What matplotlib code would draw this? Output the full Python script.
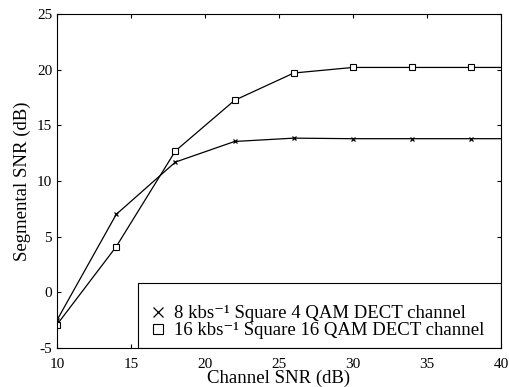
import matplotlib
matplotlib.use("Agg")
import matplotlib.pyplot as plt
from matplotlib.patches import Rectangle

plt.rcParams['font.family'] = ['Liberation Serif', 'DejaVu Serif']
plt.rcParams['axes.unicode_minus'] = False

# 数据
channel_snr = [10, 14, 18, 22, 26, 30, 34, 38, 40]
seg_snr_4qam = [-2.5, 7.0, 11.7, 13.55, 13.85, 13.8, 13.8, 13.8, 13.8]
seg_snr_16qam = [-2.9, 4.1, 12.7, 17.25, 19.7, 20.2, 20.2, 20.2, 20.2]
labels = ['8 kbs\u207b\u00b9 Square 4 QAM DECT channel',
          '16 kbs\u207b\u00b9 Square 16 QAM DECT channel']

fig = plt.figure(figsize=(5.09, 3.87), dpi=100)
ax = fig.add_axes([57 / 509, 1 - 348 / 387, 444 / 509, 334 / 387])

# 最后一个点只画线,不画标记
ax.plot(channel_snr, seg_snr_4qam, color='black', lw=0.9,
        marker='x', ms=3.5, mew=0.9, markevery=list(range(8)))
ax.plot(channel_snr, seg_snr_16qam, color='black', lw=0.9,
        marker='s', ms=5, mfc='white', mew=0.8, markevery=list(range(8)))

# 图例框
box = Rectangle((81 / 444, 0), 363 / 444, 65 / 334, transform=ax.transAxes,
                facecolor='white', edgecolor='black', lw=0.8, zorder=4)
ax.add_patch(box)

h1, = ax.plot([], [], ls='none', marker='x', color='black', ms=6.5, mew=0.9)
h2, = ax.plot([], [], ls='none', marker='s', mfc='white', mec='black', ms=7.5, mew=0.8)
leg = ax.legend([h1, h2], labels, loc='lower left', bbox_to_anchor=(84 / 444, 0.003),
                borderaxespad=0, frameon=False,
                fontsize=13.5, handlelength=1.0, handletextpad=0.35,
                labelspacing=0.0, borderpad=0.4)
leg.set_zorder(5)

ax.set_xlim(10, 40)
ax.set_ylim(-5, 25)
ax.set_xticks(range(10, 41, 5))
ax.set_yticks(range(-5, 26, 5))
ax.tick_params(direction='in', top=True, right=True, labelsize=11, length=3)
ax.tick_params(axis='x', pad=7)
for s in ax.spines.values():
    s.set_linewidth(0.8)
    s.set_zorder(6)

ax.set_xlabel('Channel SNR (dB)', fontsize=13.5, labelpad=-1)
ax.set_ylabel('Segmental SNR (dB)', fontsize=13.5, labelpad=4)

fig.savefig('out.png', dpi=100)
